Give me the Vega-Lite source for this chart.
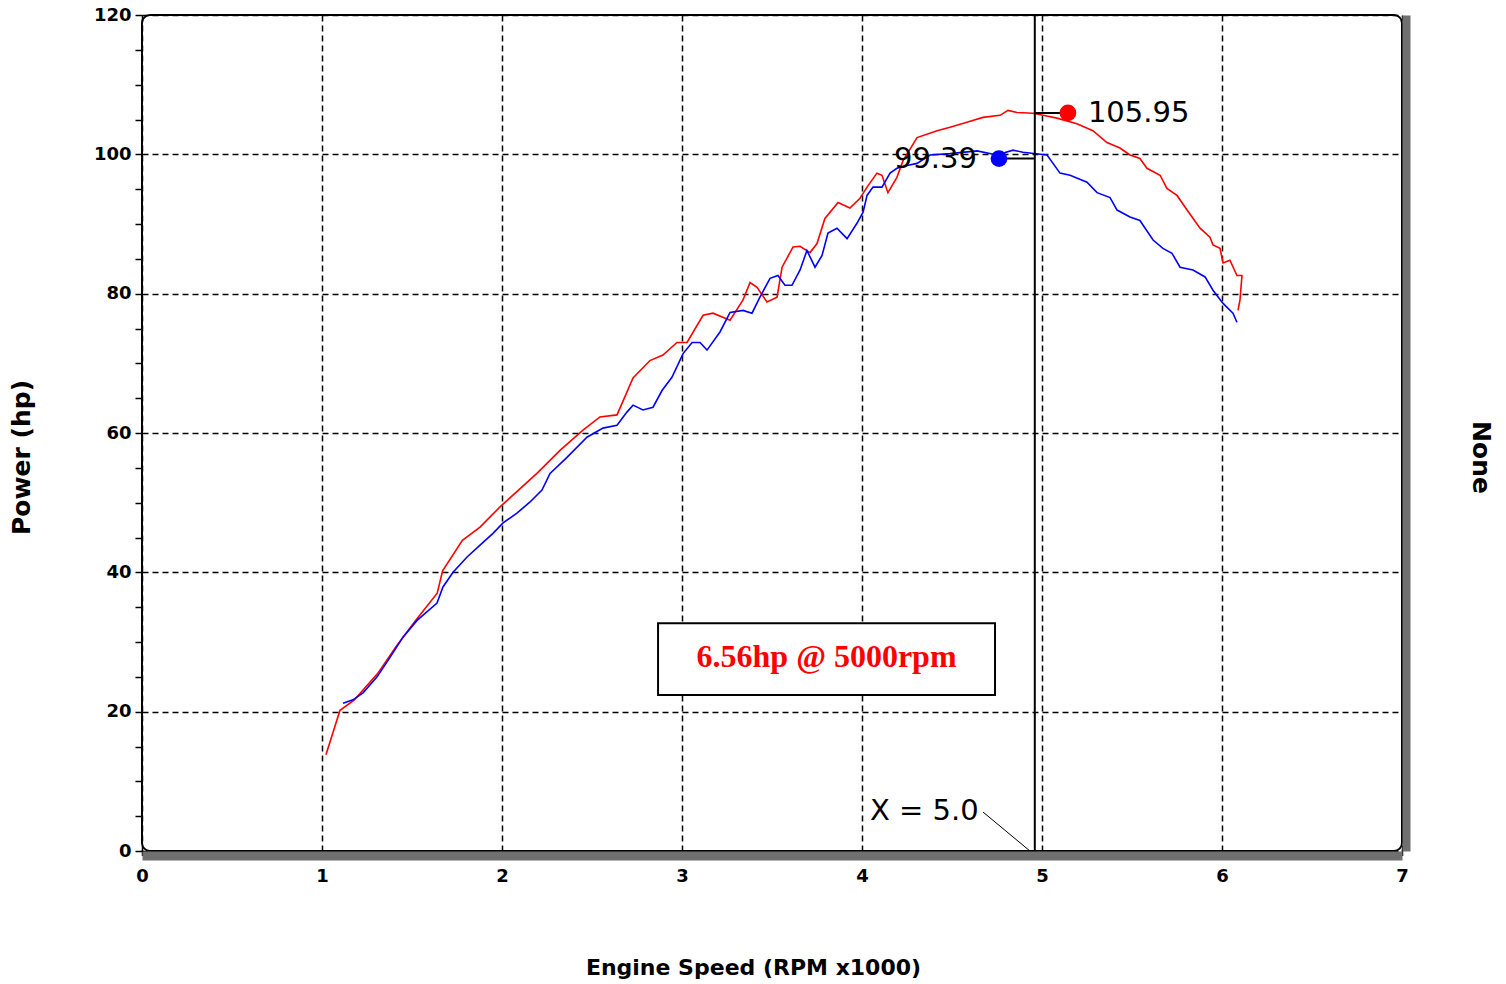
{
  "$schema": "https://vega.github.io/schema/vega-lite/v6.json",
  "width": 1260,
  "height": 836,
  "autosize": {"type": "none"},
  "padding": {"left": 142, "top": 15, "right": 104, "bottom": 133},
  "background": "white",
  "config": {
    "view": {"stroke": "black", "strokeWidth": 2, "cornerRadius": 8}
  },
  "datasets": {
    "runs": [
      {"run": "Run 1", "rpm": 1.022, "hp": 13.8},
      {"run": "Run 1", "rpm": 1.10, "hp": 20.2},
      {"run": "Run 1", "rpm": 1.18, "hp": 21.7},
      {"run": "Run 1", "rpm": 1.31, "hp": 25.5},
      {"run": "Run 1", "rpm": 1.41, "hp": 29.3},
      {"run": "Run 1", "rpm": 1.52, "hp": 33.1},
      {"run": "Run 1", "rpm": 1.64, "hp": 37.0},
      {"run": "Run 1", "rpm": 1.67, "hp": 40.2},
      {"run": "Run 1", "rpm": 1.78, "hp": 44.6},
      {"run": "Run 1", "rpm": 1.878, "hp": 46.5},
      {"run": "Run 1", "rpm": 1.989, "hp": 49.4},
      {"run": "Run 1", "rpm": 2.194, "hp": 54.2},
      {"run": "Run 1", "rpm": 2.322, "hp": 57.5},
      {"run": "Run 1", "rpm": 2.45, "hp": 60.4},
      {"run": "Run 1", "rpm": 2.544, "hp": 62.3},
      {"run": "Run 1", "rpm": 2.639, "hp": 62.6},
      {"run": "Run 1", "rpm": 2.728, "hp": 67.9},
      {"run": "Run 1", "rpm": 2.822, "hp": 70.4},
      {"run": "Run 1", "rpm": 2.894, "hp": 71.2},
      {"run": "Run 1", "rpm": 2.972, "hp": 73.0},
      {"run": "Run 1", "rpm": 3.028, "hp": 73.0},
      {"run": "Run 1", "rpm": 3.117, "hp": 76.9},
      {"run": "Run 1", "rpm": 3.172, "hp": 77.2},
      {"run": "Run 1", "rpm": 3.267, "hp": 76.2},
      {"run": "Run 1", "rpm": 3.339, "hp": 79.1},
      {"run": "Run 1", "rpm": 3.378, "hp": 81.6},
      {"run": "Run 1", "rpm": 3.417, "hp": 80.9},
      {"run": "Run 1", "rpm": 3.472, "hp": 78.8},
      {"run": "Run 1", "rpm": 3.528, "hp": 79.5},
      {"run": "Run 1", "rpm": 3.556, "hp": 83.8},
      {"run": "Run 1", "rpm": 3.617, "hp": 86.7},
      {"run": "Run 1", "rpm": 3.656, "hp": 86.8},
      {"run": "Run 1", "rpm": 3.711, "hp": 85.9},
      {"run": "Run 1", "rpm": 3.75, "hp": 87.2},
      {"run": "Run 1", "rpm": 3.794, "hp": 90.8},
      {"run": "Run 1", "rpm": 3.867, "hp": 93.1},
      {"run": "Run 1", "rpm": 3.933, "hp": 92.3},
      {"run": "Run 1", "rpm": 3.989, "hp": 93.7},
      {"run": "Run 1", "rpm": 4.028, "hp": 95.3},
      {"run": "Run 1", "rpm": 4.083, "hp": 97.3},
      {"run": "Run 1", "rpm": 4.111, "hp": 97.0},
      {"run": "Run 1", "rpm": 4.144, "hp": 94.5},
      {"run": "Run 1", "rpm": 4.194, "hp": 96.7},
      {"run": "Run 1", "rpm": 4.228, "hp": 99.1},
      {"run": "Run 1", "rpm": 4.306, "hp": 102.4},
      {"run": "Run 1", "rpm": 4.417, "hp": 103.4},
      {"run": "Run 1", "rpm": 4.489, "hp": 103.9},
      {"run": "Run 1", "rpm": 4.583, "hp": 104.6},
      {"run": "Run 1", "rpm": 4.672, "hp": 105.3},
      {"run": "Run 1", "rpm": 4.767, "hp": 105.6},
      {"run": "Run 1", "rpm": 4.811, "hp": 106.3},
      {"run": "Run 1", "rpm": 4.861, "hp": 106.0},
      {"run": "Run 1", "rpm": 4.95, "hp": 105.9},
      {"run": "Run 1", "rpm": 5.006, "hp": 105.6},
      {"run": "Run 1", "rpm": 5.083, "hp": 105.2},
      {"run": "Run 1", "rpm": 5.194, "hp": 104.4},
      {"run": "Run 1", "rpm": 5.283, "hp": 103.4},
      {"run": "Run 1", "rpm": 5.361, "hp": 101.7},
      {"run": "Run 1", "rpm": 5.433, "hp": 100.9},
      {"run": "Run 1", "rpm": 5.489, "hp": 99.9},
      {"run": "Run 1", "rpm": 5.544, "hp": 99.4},
      {"run": "Run 1", "rpm": 5.583, "hp": 98.0},
      {"run": "Run 1", "rpm": 5.656, "hp": 97.0},
      {"run": "Run 1", "rpm": 5.694, "hp": 95.1},
      {"run": "Run 1", "rpm": 5.75, "hp": 94.1},
      {"run": "Run 1", "rpm": 5.806, "hp": 92.0},
      {"run": "Run 1", "rpm": 5.878, "hp": 89.4},
      {"run": "Run 1", "rpm": 5.933, "hp": 88.1},
      {"run": "Run 1", "rpm": 5.95, "hp": 87.0},
      {"run": "Run 1", "rpm": 5.989, "hp": 86.5},
      {"run": "Run 1", "rpm": 6.006, "hp": 84.4},
      {"run": "Run 1", "rpm": 6.044, "hp": 84.8},
      {"run": "Run 1", "rpm": 6.083, "hp": 82.6},
      {"run": "Run 1", "rpm": 6.111, "hp": 82.6},
      {"run": "Run 1", "rpm": 6.1, "hp": 79.1},
      {"run": "Run 1", "rpm": 6.089, "hp": 77.6},
      {"run": "Run 2", "rpm": 1.117, "hp": 21.2},
      {"run": "Run 2", "rpm": 1.172, "hp": 21.7},
      {"run": "Run 2", "rpm": 1.228, "hp": 22.7},
      {"run": "Run 2", "rpm": 1.306, "hp": 25.0},
      {"run": "Run 2", "rpm": 1.378, "hp": 27.8},
      {"run": "Run 2", "rpm": 1.45, "hp": 30.7},
      {"run": "Run 2", "rpm": 1.528, "hp": 33.1},
      {"run": "Run 2", "rpm": 1.639, "hp": 35.6},
      {"run": "Run 2", "rpm": 1.672, "hp": 37.9},
      {"run": "Run 2", "rpm": 1.728, "hp": 40.0},
      {"run": "Run 2", "rpm": 1.806, "hp": 42.2},
      {"run": "Run 2", "rpm": 1.878, "hp": 43.9},
      {"run": "Run 2", "rpm": 1.95, "hp": 45.6},
      {"run": "Run 2", "rpm": 2.006, "hp": 47.1},
      {"run": "Run 2", "rpm": 2.083, "hp": 48.5},
      {"run": "Run 2", "rpm": 2.156, "hp": 50.1},
      {"run": "Run 2", "rpm": 2.222, "hp": 51.8},
      {"run": "Run 2", "rpm": 2.267, "hp": 54.2},
      {"run": "Run 2", "rpm": 2.361, "hp": 56.5},
      {"run": "Run 2", "rpm": 2.472, "hp": 59.4},
      {"run": "Run 2", "rpm": 2.561, "hp": 60.7},
      {"run": "Run 2", "rpm": 2.639, "hp": 61.1},
      {"run": "Run 2", "rpm": 2.694, "hp": 63.0},
      {"run": "Run 2", "rpm": 2.728, "hp": 64.0},
      {"run": "Run 2", "rpm": 2.783, "hp": 63.3},
      {"run": "Run 2", "rpm": 2.839, "hp": 63.7},
      {"run": "Run 2", "rpm": 2.889, "hp": 66.1},
      {"run": "Run 2", "rpm": 2.944, "hp": 68.0},
      {"run": "Run 2", "rpm": 3.006, "hp": 71.4},
      {"run": "Run 2", "rpm": 3.056, "hp": 73.0},
      {"run": "Run 2", "rpm": 3.1, "hp": 73.0},
      {"run": "Run 2", "rpm": 3.139, "hp": 71.9},
      {"run": "Run 2", "rpm": 3.211, "hp": 74.5},
      {"run": "Run 2", "rpm": 3.267, "hp": 77.3},
      {"run": "Run 2", "rpm": 3.339, "hp": 77.6},
      {"run": "Run 2", "rpm": 3.389, "hp": 77.2},
      {"run": "Run 2", "rpm": 3.433, "hp": 79.5},
      {"run": "Run 2", "rpm": 3.489, "hp": 82.2},
      {"run": "Run 2", "rpm": 3.533, "hp": 82.6},
      {"run": "Run 2", "rpm": 3.572, "hp": 81.2},
      {"run": "Run 2", "rpm": 3.611, "hp": 81.2},
      {"run": "Run 2", "rpm": 3.656, "hp": 83.4},
      {"run": "Run 2", "rpm": 3.694, "hp": 86.2},
      {"run": "Run 2", "rpm": 3.739, "hp": 83.8},
      {"run": "Run 2", "rpm": 3.778, "hp": 85.5},
      {"run": "Run 2", "rpm": 3.811, "hp": 88.7},
      {"run": "Run 2", "rpm": 3.861, "hp": 89.4},
      {"run": "Run 2", "rpm": 3.917, "hp": 87.9},
      {"run": "Run 2", "rpm": 3.972, "hp": 90.1},
      {"run": "Run 2", "rpm": 4.006, "hp": 91.7},
      {"run": "Run 2", "rpm": 4.028, "hp": 94.1},
      {"run": "Run 2", "rpm": 4.061, "hp": 95.3},
      {"run": "Run 2", "rpm": 4.111, "hp": 95.3},
      {"run": "Run 2", "rpm": 4.156, "hp": 97.3},
      {"run": "Run 2", "rpm": 4.194, "hp": 98.0},
      {"run": "Run 2", "rpm": 4.25, "hp": 98.4},
      {"run": "Run 2", "rpm": 4.306, "hp": 98.7},
      {"run": "Run 2", "rpm": 4.378, "hp": 99.9},
      {"run": "Run 2", "rpm": 4.489, "hp": 100.1},
      {"run": "Run 2", "rpm": 4.639, "hp": 100.5},
      {"run": "Run 2", "rpm": 4.75, "hp": 99.9},
      {"run": "Run 2", "rpm": 4.839, "hp": 100.6},
      {"run": "Run 2", "rpm": 4.894, "hp": 100.3},
      {"run": "Run 2", "rpm": 5.028, "hp": 99.9},
      {"run": "Run 2", "rpm": 5.1, "hp": 97.3},
      {"run": "Run 2", "rpm": 5.156, "hp": 97.0},
      {"run": "Run 2", "rpm": 5.25, "hp": 96.0},
      {"run": "Run 2", "rpm": 5.306, "hp": 94.5},
      {"run": "Run 2", "rpm": 5.378, "hp": 93.8},
      {"run": "Run 2", "rpm": 5.417, "hp": 92.0},
      {"run": "Run 2", "rpm": 5.489, "hp": 91.0},
      {"run": "Run 2", "rpm": 5.544, "hp": 90.5},
      {"run": "Run 2", "rpm": 5.617, "hp": 87.7},
      {"run": "Run 2", "rpm": 5.672, "hp": 86.5},
      {"run": "Run 2", "rpm": 5.722, "hp": 85.8},
      {"run": "Run 2", "rpm": 5.767, "hp": 83.8},
      {"run": "Run 2", "rpm": 5.839, "hp": 83.4},
      {"run": "Run 2", "rpm": 5.906, "hp": 82.4},
      {"run": "Run 2", "rpm": 5.95, "hp": 80.5},
      {"run": "Run 2", "rpm": 6.006, "hp": 78.6},
      {"run": "Run 2", "rpm": 6.061, "hp": 77.2},
      {"run": "Run 2", "rpm": 6.083, "hp": 75.9}
    ],
    "peaks": [
      {"run": "Run 1", "rpm": 5.144, "hp": 105.95, "label": "105.95", "side": "right"},
      {"run": "Run 2", "rpm": 4.761, "hp": 99.39, "label": "99.39", "side": "left"}
    ],
    "cursor": [{"rpm": 4.96}],
    "cursorLabel": [{"rpm": 4.044, "hp": 5.7, "label": "X = 5.0"}],
    "cursorLeader": [{"rpm": 4.672, "hp": 5.6}, {"rpm": 4.933, "hp": 0}],
    "note": [{"rpm": 2.867, "rpm2": 4.739, "hp": 22.4, "hp2": 32.7, "mid": 3.803, "hpMid": 27.9, "label": "6.56hp @ 5000rpm"}]
  },
  "layer": [
    {
      "data": {"name": "runs"},
      "mark": {"type": "line", "strokeWidth": 1.6, "interpolate": "linear"},
      "encoding": {
        "x": {
          "field": "rpm", "type": "quantitative",
          "scale": {"domain": [0, 7], "nice": false, "zero": false},
          "axis": {
            "values": [0, 0.2, 0.4, 0.6, 0.8, 1, 1.2, 1.4, 1.6, 1.8, 2, 2.2, 2.4, 2.6, 2.8, 3, 3.2, 3.4, 3.6, 3.8, 4, 4.2, 4.4, 4.6, 4.8, 5, 5.2, 5.4, 5.6, 5.8, 6, 6.2, 6.4, 6.6, 6.8, 7],
            "tickCount": 60,
            "title": "Engine Speed (RPM x1000)",
            "labelExpr": "abs(datum.value - round(datum.value)) < 0.001 ? format(datum.value, 'd') : ''",
            "labelFont": "DejaVu Sans", "labelFontWeight": "bold", "labelFontSize": 18, "labelColor": "black",
            "labelFlush": false, "labelOverlap": false, "labelPadding": 18, "labelBaseline": "top",
            "domain": true, "domainColor": "#707070", "domainWidth": 9, "offset": 4.5,
            "ticks": true, "tickColor": "black", "tickSize": -6, "tickWidth": 1.5,
            "grid": true, "gridColor": "black", "gridDash": [6, 4], "gridWidth": 1.5,
            "gridOpacity": {"condition": {"test": "abs(datum.value - round(datum.value)) < 0.001", "value": 1}, "value": 0},
            "titleFont": "DejaVu Sans", "titleFontWeight": "bold", "titleFontSize": 22, "titleColor": "black",
            "titleX": 611, "titleY": 112, "titleBaseline": "middle", "titleAlign": "center"
          }
        },
        "y": {
          "field": "hp", "type": "quantitative",
          "scale": {"domain": [0, 120], "nice": false, "zero": true},
          "axis": {
            "orient": "left",
            "values": [0, 5, 10, 15, 20, 25, 30, 35, 40, 45, 50, 55, 60, 65, 70, 75, 80, 85, 90, 95, 100, 105, 110, 115, 120],
            "tickCount": 60,
            "labelExpr": "datum.value % 20 === 0 ? datum.label : ''",
            "labelFont": "DejaVu Sans", "labelFontWeight": "bold", "labelFontSize": 18, "labelColor": "black",
            "labelOverlap": false, "labelPadding": 4,
            "domain": false,
            "ticks": true, "tickColor": "black", "tickSize": 7, "tickWidth": 1.5,
            "grid": true, "gridColor": "black", "gridDash": [6, 4], "gridWidth": 1.5,
            "gridOpacity": {"condition": {"test": "datum.value % 20 === 0", "value": 1}, "value": 0},
            "title": "Power (hp)",
            "titleFont": "DejaVu Sans", "titleFontWeight": "bold", "titleFontSize": 25, "titleColor": "black",
            "titleAngle": 270, "titleX": -121, "titleY": 442, "titleBaseline": "middle", "titleAlign": "center"
          }
        },
        "color": {"field": "run", "type": "nominal", "scale": {"domain": ["Run 1", "Run 2"], "range": ["#ff0000", "#0000ff"]}, "legend": null},
        "order": {"value": null}
      }
    },
    {
      "data": {"name": "note"},
      "mark": {"type": "rect", "fill": "white", "stroke": "black", "strokeWidth": 2},
      "encoding": {
        "x": {"field": "rpm", "type": "quantitative"},
        "x2": {"field": "rpm2"},
        "y": {"field": "hp", "type": "quantitative", "axis": null},
        "y2": {"field": "hp2"}
      }
    },
    {
      "data": {"name": "note"},
      "mark": {"type": "text", "font": "Liberation Serif", "fontWeight": "bold", "fontSize": 32, "color": "#ff0000", "align": "center", "baseline": "middle"},
      "encoding": {
        "x": {"field": "mid", "type": "quantitative"},
        "y": {"field": "hpMid", "type": "quantitative", "axis": null},
        "text": {"field": "label"}
      }
    },
    {
      "data": {"name": "cursor"},
      "mark": {"type": "rule", "color": "black", "strokeWidth": 2},
      "encoding": {
        "x": {"field": "rpm", "type": "quantitative"}
      }
    },
    {
      "data": {"name": "cursorLeader"},
      "mark": {"type": "line", "color": "black", "strokeWidth": 1},
      "encoding": {
        "x": {"field": "rpm", "type": "quantitative"},
        "y": {"field": "hp", "type": "quantitative", "axis": null},
        "order": {"value": null}
      }
    },
    {
      "data": {"name": "cursorLabel"},
      "mark": {"type": "text", "font": "DejaVu Sans", "fontSize": 29, "color": "black", "align": "left", "baseline": "middle"},
      "encoding": {
        "x": {"field": "rpm", "type": "quantitative"},
        "y": {"field": "hp", "type": "quantitative", "axis": null},
        "text": {"field": "label"}
      }
    },
    {
      "data": {"name": "peaks"},
      "mark": {"type": "rule", "color": "black", "strokeWidth": 2},
      "encoding": {
        "x": {"field": "rpm", "type": "quantitative"},
        "x2": {"datum": 4.96},
        "y": {"field": "hp", "type": "quantitative", "axis": null}
      }
    },
    {
      "data": {"name": "peaks"},
      "mark": {"type": "circle", "size": 280, "opacity": 1},
      "encoding": {
        "x": {"field": "rpm", "type": "quantitative"},
        "y": {
          "field": "hp", "type": "quantitative",
          "axis": {
            "orient": "right", "offset": 4,
            "domain": true, "domainColor": "#707070", "domainWidth": 8,
            "ticks": false, "labels": false, "grid": false,
            "title": "None",
            "titleFont": "DejaVu Sans", "titleFontWeight": "bold", "titleFontSize": 25, "titleColor": "black",
            "titleAngle": 90, "titleX": 74, "titleY": 442, "titleBaseline": "middle", "titleAlign": "center"
          }
        },
        "color": {"field": "run", "type": "nominal", "scale": {"domain": ["Run 1", "Run 2"], "range": ["#ff0000", "#0000ff"]}, "legend": null}
      }
    },
    {
      "data": {"name": "peaks"},
      "transform": [{"filter": "datum.side === 'right'"}],
      "mark": {"type": "text", "font": "DejaVu Sans", "fontSize": 29, "color": "black", "align": "left", "baseline": "middle", "dx": 20},
      "encoding": {
        "x": {"field": "rpm", "type": "quantitative"},
        "y": {"field": "hp", "type": "quantitative", "axis": null},
        "text": {"field": "label"}
      }
    },
    {
      "data": {"name": "peaks"},
      "transform": [{"filter": "datum.side === 'left'"}],
      "mark": {"type": "text", "font": "DejaVu Sans", "fontSize": 29, "color": "black", "align": "right", "baseline": "middle", "dx": -22},
      "encoding": {
        "x": {"field": "rpm", "type": "quantitative"},
        "y": {"field": "hp", "type": "quantitative", "axis": null},
        "text": {"field": "label"}
      }
    }
  ],
  "resolve": {"axis": {"y": "independent"}}
}
